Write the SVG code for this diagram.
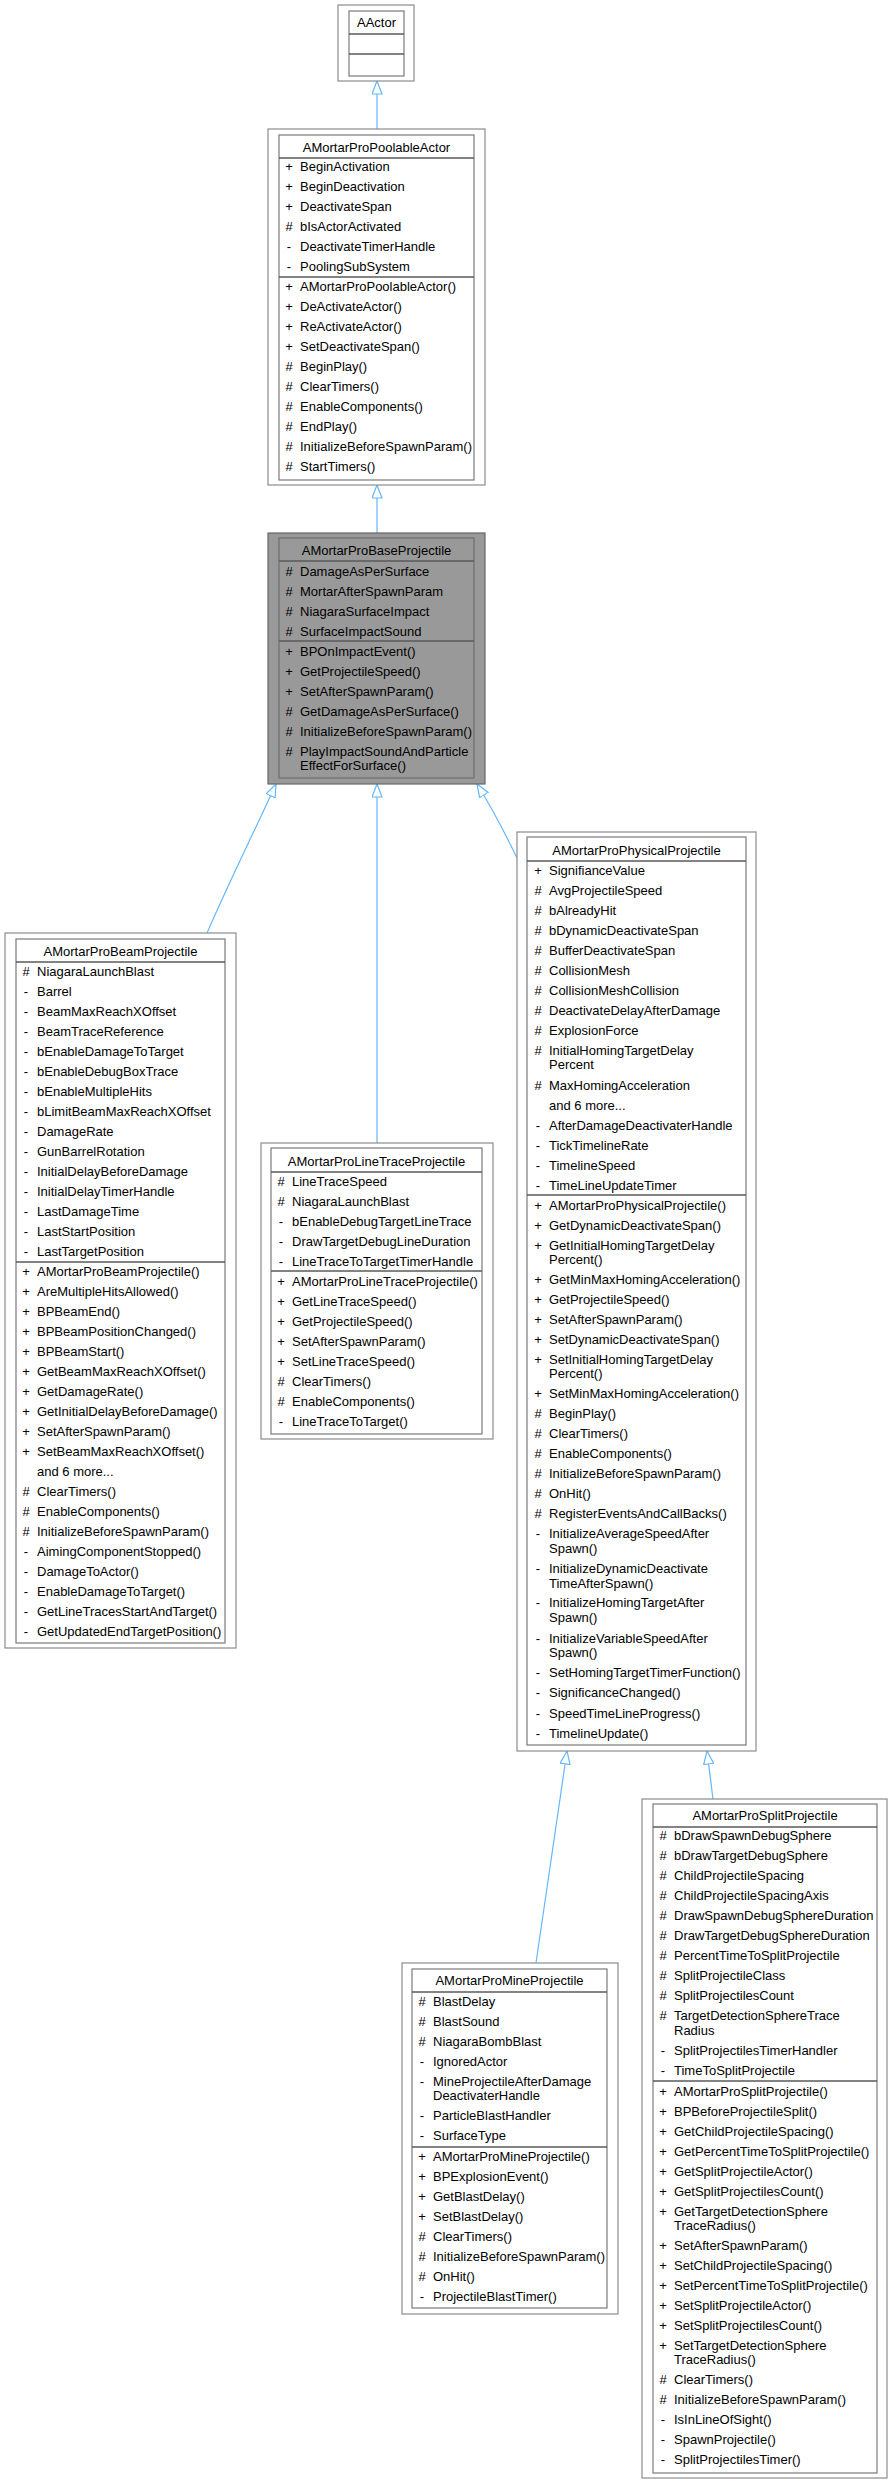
<svg xmlns="http://www.w3.org/2000/svg" width="892" height="2484" viewBox="0 0 892 2484">
<style>
.bg{fill:#ffffff}
.o{fill:#ffffff;stroke:#8c8c8c;stroke-width:1.2}
.i{fill:#ffffff;stroke:#7a7a7a;stroke-width:1.2}
.og{fill:#999999;stroke:#666666;stroke-width:1.2}
.ig{fill:#999999;stroke:#6e6e6e;stroke-width:1.2}
.d{stroke:#5a5a5a;stroke-width:1.3}
text{font-family:"Liberation Sans",Arial,sans-serif;font-size:13px;fill:#000000}
.c{text-anchor:middle}
.e{fill:none;stroke:#63b8ff;stroke-width:1.2}
</style>
<defs>
<marker id="inh" viewBox="0 0 14 11" refX="13.5" refY="5.5" markerWidth="14" markerHeight="11" markerUnits="userSpaceOnUse" orient="auto">
<path d="M0.5,0.5 L13.5,5.5 L0.5,10.5 Z" fill="#ffffff" stroke="#63b8ff" stroke-width="1.2"/>
</marker>
</defs>
<rect class="bg" x="0" y="0" width="892" height="2484"/>

<g id="edges">
<path class="e" d="M377,129 L377,81" marker-end="url(#inh)"/>
<path class="e" d="M377,533 L377,485" marker-end="url(#inh)"/>
<path class="e" d="M207,933 C230,880 255,830 276,784" marker-end="url(#inh)"/>
<path class="e" d="M377,1143 L377,784" marker-end="url(#inh)"/>
<path class="e" d="M517,858 C505,833 490,805 477,784" marker-end="url(#inh)"/>
<path class="e" d="M536,1963 L567,1751" marker-end="url(#inh)"/>
<path class="e" d="M713,1799 L707,1751" marker-end="url(#inh)"/>
</g>

<g id="AActor">
<rect class="o" x="338" y="5" width="76" height="76"/>
<rect class="i" x="349" y="11" width="55" height="65"/>
<line class="d" x1="349" y1="34" x2="404" y2="34"/>
<line class="d" x1="349" y1="54" x2="404" y2="54"/>
<text class="c" x="376.5" y="27">AActor</text>
</g>

<g id="AMortarProPoolableActor">
<rect class="o" x="268" y="129" width="217" height="356"/>
<rect class="i" x="279" y="135" width="195" height="345"/>
<line class="d" x1="279" y1="158" x2="474" y2="158"/>
<line class="d" x1="279" y1="277" x2="474" y2="277"/>
<text class="c" x="376.5" y="152">AMortarProPoolableActor</text>
<g transform="translate(289,0)">
<text class="c" y="171">+</text><text class="c" y="191">+</text><text class="c" y="211">+</text><text class="c" y="231">#</text><text class="c" y="251">-</text><text class="c" y="271">-</text>
<text class="c" y="291">+</text><text class="c" y="311">+</text><text class="c" y="331">+</text><text class="c" y="351">+</text><text class="c" y="371">#</text><text class="c" y="391">#</text><text class="c" y="411">#</text><text class="c" y="431">#</text><text class="c" y="451">#</text><text class="c" y="471">#</text>
</g>
<g transform="translate(300,0)">
<text y="171">BeginActivation</text>
<text y="191">BeginDeactivation</text>
<text y="211">DeactivateSpan</text>
<text y="231">bIsActorActivated</text>
<text y="251">DeactivateTimerHandle</text>
<text y="271">PoolingSubSystem</text>
<text y="291">AMortarProPoolableActor()</text>
<text y="311">DeActivateActor()</text>
<text y="331">ReActivateActor()</text>
<text y="351">SetDeactivateSpan()</text>
<text y="371">BeginPlay()</text>
<text y="391">ClearTimers()</text>
<text y="411">EnableComponents()</text>
<text y="431">EndPlay()</text>
<text y="451">InitializeBeforeSpawnParam()</text>
<text y="471">StartTimers()</text>
</g>
</g>

<g id="AMortarProBaseProjectile">
<rect class="og" x="268" y="533" width="217" height="251"/>
<rect class="ig" x="279" y="538" width="195" height="240"/>
<line class="d" x1="279" y1="561" x2="474" y2="561"/>
<line class="d" x1="279" y1="641" x2="474" y2="641"/>
<text class="c" x="376.5" y="555">AMortarProBaseProjectile</text>
<g transform="translate(289,0)">
<text class="c" y="576">#</text><text class="c" y="596">#</text><text class="c" y="616">#</text><text class="c" y="636">#</text>
<text class="c" y="656">+</text><text class="c" y="676">+</text><text class="c" y="696">+</text><text class="c" y="716">#</text><text class="c" y="736">#</text><text class="c" y="756">#</text>
</g>
<g transform="translate(300,0)">
<text y="576">DamageAsPerSurface</text>
<text y="596">MortarAfterSpawnParam</text>
<text y="616">NiagaraSurfaceImpact</text>
<text y="636">SurfaceImpactSound</text>
<text y="656">BPOnImpactEvent()</text>
<text y="676">GetProjectileSpeed()</text>
<text y="696">SetAfterSpawnParam()</text>
<text y="716">GetDamageAsPerSurface()</text>
<text y="736">InitializeBeforeSpawnParam()</text>
<text y="756">PlayImpactSoundAndParticle</text>
<text y="770">EffectForSurface()</text>
</g>
</g>

<g id="AMortarProBeamProjectile">
<rect class="o" x="5" y="933" width="231" height="715"/>
<rect class="i" x="16" y="939" width="209" height="704"/>
<line class="d" x1="16" y1="962" x2="225" y2="962"/>
<line class="d" x1="16" y1="1262" x2="225" y2="1262"/>
<text class="c" x="120.5" y="956">AMortarProBeamProjectile</text>
<g transform="translate(26,0)">
<text class="c" y="976">#</text><text class="c" y="996">-</text><text class="c" y="1016">-</text><text class="c" y="1036">-</text><text class="c" y="1056">-</text><text class="c" y="1076">-</text><text class="c" y="1096">-</text><text class="c" y="1116">-</text><text class="c" y="1136">-</text><text class="c" y="1156">-</text><text class="c" y="1176">-</text><text class="c" y="1196">-</text><text class="c" y="1216">-</text><text class="c" y="1236">-</text><text class="c" y="1256">-</text>
<text class="c" y="1276">+</text><text class="c" y="1296">+</text><text class="c" y="1316">+</text><text class="c" y="1336">+</text><text class="c" y="1356">+</text><text class="c" y="1376">+</text><text class="c" y="1396">+</text><text class="c" y="1416">+</text><text class="c" y="1436">+</text><text class="c" y="1456">+</text>
<text class="c" y="1496">#</text><text class="c" y="1516">#</text><text class="c" y="1536">#</text><text class="c" y="1556">-</text><text class="c" y="1576">-</text><text class="c" y="1596">-</text><text class="c" y="1616">-</text><text class="c" y="1636">-</text>
</g>
<g transform="translate(37,0)">
<text y="976">NiagaraLaunchBlast</text>
<text y="996">Barrel</text>
<text y="1016">BeamMaxReachXOffset</text>
<text y="1036">BeamTraceReference</text>
<text y="1056">bEnableDamageToTarget</text>
<text y="1076">bEnableDebugBoxTrace</text>
<text y="1096">bEnableMultipleHits</text>
<text y="1116">bLimitBeamMaxReachXOffset</text>
<text y="1136">DamageRate</text>
<text y="1156">GunBarrelRotation</text>
<text y="1176">InitialDelayBeforeDamage</text>
<text y="1196">InitialDelayTimerHandle</text>
<text y="1216">LastDamageTime</text>
<text y="1236">LastStartPosition</text>
<text y="1256">LastTargetPosition</text>
<text y="1276">AMortarProBeamProjectile()</text>
<text y="1296">AreMultipleHitsAllowed()</text>
<text y="1316">BPBeamEnd()</text>
<text y="1336">BPBeamPositionChanged()</text>
<text y="1356">BPBeamStart()</text>
<text y="1376">GetBeamMaxReachXOffset()</text>
<text y="1396">GetDamageRate()</text>
<text y="1416">GetInitialDelayBeforeDamage()</text>
<text y="1436">SetAfterSpawnParam()</text>
<text y="1456">SetBeamMaxReachXOffset()</text>
<text y="1476">and 6 more...</text>
<text y="1496">ClearTimers()</text>
<text y="1516">EnableComponents()</text>
<text y="1536">InitializeBeforeSpawnParam()</text>
<text y="1556">AimingComponentStopped()</text>
<text y="1576">DamageToActor()</text>
<text y="1596">EnableDamageToTarget()</text>
<text y="1616">GetLineTracesStartAndTarget()</text>
<text y="1636">GetUpdatedEndTargetPosition()</text>
</g>
</g>

<g id="AMortarProLineTraceProjectile">
<rect class="o" x="261" y="1143" width="232" height="296"/>
<rect class="i" x="271" y="1148" width="211" height="286"/>
<line class="d" x1="271" y1="1172" x2="482" y2="1172"/>
<line class="d" x1="271" y1="1271" x2="482" y2="1271"/>
<text class="c" x="376.5" y="1166">AMortarProLineTraceProjectile</text>
<g transform="translate(281,0)">
<text class="c" y="1186">#</text><text class="c" y="1206">#</text><text class="c" y="1226">-</text><text class="c" y="1246">-</text><text class="c" y="1266">-</text>
<text class="c" y="1286">+</text><text class="c" y="1306">+</text><text class="c" y="1326">+</text><text class="c" y="1346">+</text><text class="c" y="1366">+</text><text class="c" y="1386">#</text><text class="c" y="1406">#</text><text class="c" y="1426">-</text>
</g>
<g transform="translate(292,0)">
<text y="1186">LineTraceSpeed</text>
<text y="1206">NiagaraLaunchBlast</text>
<text y="1226">bEnableDebugTargetLineTrace</text>
<text y="1246">DrawTargetDebugLineDuration</text>
<text y="1266">LineTraceToTargetTimerHandle</text>
<text y="1286">AMortarProLineTraceProjectile()</text>
<text y="1306">GetLineTraceSpeed()</text>
<text y="1326">GetProjectileSpeed()</text>
<text y="1346">SetAfterSpawnParam()</text>
<text y="1366">SetLineTraceSpeed()</text>
<text y="1386">ClearTimers()</text>
<text y="1406">EnableComponents()</text>
<text y="1426">LineTraceToTarget()</text>
</g>
</g>

<g id="AMortarProPhysicalProjectile">
<rect class="o" x="517" y="832" width="239" height="919"/>
<rect class="i" x="527" y="837" width="219" height="908"/>
<line class="d" x1="527" y1="861" x2="746" y2="861"/>
<line class="d" x1="527" y1="1195" x2="746" y2="1195"/>
<text class="c" x="636.5" y="855">AMortarProPhysicalProjectile</text>
<g transform="translate(538,0)">
<text class="c" y="875">+</text><text class="c" y="895">#</text><text class="c" y="915">#</text><text class="c" y="935">#</text><text class="c" y="955">#</text><text class="c" y="975">#</text><text class="c" y="995">#</text><text class="c" y="1015">#</text><text class="c" y="1035">#</text><text class="c" y="1055">#</text><text class="c" y="1090">#</text>
<text class="c" y="1130">-</text><text class="c" y="1150">-</text><text class="c" y="1170">-</text><text class="c" y="1190">-</text>
<text class="c" y="1210">+</text><text class="c" y="1230">+</text><text class="c" y="1250">+</text><text class="c" y="1284">+</text><text class="c" y="1304">+</text><text class="c" y="1324">+</text><text class="c" y="1344">+</text><text class="c" y="1364">+</text><text class="c" y="1398">+</text>
<text class="c" y="1418">#</text><text class="c" y="1438">#</text><text class="c" y="1458">#</text><text class="c" y="1478">#</text><text class="c" y="1498">#</text><text class="c" y="1518">#</text>
<text class="c" y="1538">-</text><text class="c" y="1573">-</text><text class="c" y="1607">-</text><text class="c" y="1643">-</text><text class="c" y="1677">-</text><text class="c" y="1697">-</text><text class="c" y="1718">-</text><text class="c" y="1738">-</text>
</g>
<g transform="translate(549,0)">
<text y="875">SignifianceValue</text>
<text y="895">AvgProjectileSpeed</text>
<text y="915">bAlreadyHit</text>
<text y="935">bDynamicDeactivateSpan</text>
<text y="955">BufferDeactivateSpan</text>
<text y="975">CollisionMesh</text>
<text y="995">CollisionMeshCollision</text>
<text y="1015">DeactivateDelayAfterDamage</text>
<text y="1035">ExplosionForce</text>
<text y="1055">InitialHomingTargetDelay</text>
<text y="1069">Percent</text>
<text y="1090">MaxHomingAcceleration</text>
<text y="1110">and 6 more...</text>
<text y="1130">AfterDamageDeactivaterHandle</text>
<text y="1150">TickTimelineRate</text>
<text y="1170">TimelineSpeed</text>
<text y="1190">TimeLineUpdateTimer</text>
<text y="1210">AMortarProPhysicalProjectile()</text>
<text y="1230">GetDynamicDeactivateSpan()</text>
<text y="1250">GetInitialHomingTargetDelay</text>
<text y="1264">Percent()</text>
<text y="1284">GetMinMaxHomingAcceleration()</text>
<text y="1304">GetProjectileSpeed()</text>
<text y="1324">SetAfterSpawnParam()</text>
<text y="1344">SetDynamicDeactivateSpan()</text>
<text y="1364">SetInitialHomingTargetDelay</text>
<text y="1378">Percent()</text>
<text y="1398">SetMinMaxHomingAcceleration()</text>
<text y="1418">BeginPlay()</text>
<text y="1438">ClearTimers()</text>
<text y="1458">EnableComponents()</text>
<text y="1478">InitializeBeforeSpawnParam()</text>
<text y="1498">OnHit()</text>
<text y="1518">RegisterEventsAndCallBacks()</text>
<text y="1538">InitializeAverageSpeedAfter</text>
<text y="1553">Spawn()</text>
<text y="1573">InitializeDynamicDeactivate</text>
<text y="1588">TimeAfterSpawn()</text>
<text y="1607">InitializeHomingTargetAfter</text>
<text y="1622">Spawn()</text>
<text y="1643">InitializeVariableSpeedAfter</text>
<text y="1657">Spawn()</text>
<text y="1677">SetHomingTargetTimerFunction()</text>
<text y="1697">SignificanceChanged()</text>
<text y="1718">SpeedTimeLineProgress()</text>
<text y="1738">TimelineUpdate()</text>
</g>
</g>

<g id="AMortarProMineProjectile">
<rect class="o" x="402" y="1963" width="216" height="351"/>
<rect class="i" x="412" y="1969" width="195" height="339"/>
<line class="d" x1="412" y1="1992" x2="607" y2="1992"/>
<line class="d" x1="412" y1="2147" x2="607" y2="2147"/>
<text class="c" x="509.5" y="1985">AMortarProMineProjectile</text>
<g transform="translate(422,0)">
<text class="c" y="2006">#</text><text class="c" y="2026">#</text><text class="c" y="2046">#</text><text class="c" y="2066">-</text><text class="c" y="2086">-</text><text class="c" y="2120">-</text><text class="c" y="2140">-</text>
<text class="c" y="2161">+</text><text class="c" y="2181">+</text><text class="c" y="2201">+</text><text class="c" y="2221">+</text><text class="c" y="2241">#</text><text class="c" y="2261">#</text><text class="c" y="2281">#</text><text class="c" y="2301">-</text>
</g>
<g transform="translate(433,0)">
<text y="2006">BlastDelay</text>
<text y="2026">BlastSound</text>
<text y="2046">NiagaraBombBlast</text>
<text y="2066">IgnoredActor</text>
<text y="2086">MineProjectileAfterDamage</text>
<text y="2100">DeactivaterHandle</text>
<text y="2120">ParticleBlastHandler</text>
<text y="2140">SurfaceType</text>
<text y="2161">AMortarProMineProjectile()</text>
<text y="2181">BPExplosionEvent()</text>
<text y="2201">GetBlastDelay()</text>
<text y="2221">SetBlastDelay()</text>
<text y="2241">ClearTimers()</text>
<text y="2261">InitializeBeforeSpawnParam()</text>
<text y="2281">OnHit()</text>
<text y="2301">ProjectileBlastTimer()</text>
</g>
</g>

<g id="AMortarProSplitProjectile">
<rect class="o" x="642" y="1799" width="245" height="679"/>
<rect class="i" x="653" y="1804" width="224" height="669"/>
<line class="d" x1="653" y1="1827" x2="877" y2="1827"/>
<line class="d" x1="653" y1="2081" x2="877" y2="2081"/>
<text class="c" x="765" y="1820">AMortarProSplitProjectile</text>
<g transform="translate(663,0)">
<text class="c" y="1840">#</text><text class="c" y="1860">#</text><text class="c" y="1880">#</text><text class="c" y="1900">#</text><text class="c" y="1920">#</text><text class="c" y="1940">#</text><text class="c" y="1960">#</text><text class="c" y="1980">#</text><text class="c" y="2000">#</text><text class="c" y="2020">#</text><text class="c" y="2055">-</text><text class="c" y="2075">-</text>
<text class="c" y="2096">+</text><text class="c" y="2116">+</text><text class="c" y="2136">+</text><text class="c" y="2156">+</text><text class="c" y="2176">+</text><text class="c" y="2196">+</text><text class="c" y="2216">+</text><text class="c" y="2250">+</text><text class="c" y="2270">+</text><text class="c" y="2290">+</text><text class="c" y="2310">+</text><text class="c" y="2330">+</text><text class="c" y="2350">+</text>
<text class="c" y="2384">#</text><text class="c" y="2404">#</text><text class="c" y="2424">-</text><text class="c" y="2444">-</text><text class="c" y="2464">-</text>
</g>
<g transform="translate(674,0)">
<text y="1840">bDrawSpawnDebugSphere</text>
<text y="1860">bDrawTargetDebugSphere</text>
<text y="1880">ChildProjectileSpacing</text>
<text y="1900">ChildProjectileSpacingAxis</text>
<text y="1920">DrawSpawnDebugSphereDuration</text>
<text y="1940">DrawTargetDebugSphereDuration</text>
<text y="1960">PercentTimeToSplitProjectile</text>
<text y="1980">SplitProjectileClass</text>
<text y="2000">SplitProjectilesCount</text>
<text y="2020">TargetDetectionSphereTrace</text>
<text y="2035">Radius</text>
<text y="2055">SplitProjectilesTimerHandler</text>
<text y="2075">TimeToSplitProjectile</text>
<text y="2096">AMortarProSplitProjectile()</text>
<text y="2116">BPBeforeProjectileSplit()</text>
<text y="2136">GetChildProjectileSpacing()</text>
<text y="2156">GetPercentTimeToSplitProjectile()</text>
<text y="2176">GetSplitProjectileActor()</text>
<text y="2196">GetSplitProjectilesCount()</text>
<text y="2216">GetTargetDetectionSphere</text>
<text y="2230">TraceRadius()</text>
<text y="2250">SetAfterSpawnParam()</text>
<text y="2270">SetChildProjectileSpacing()</text>
<text y="2290">SetPercentTimeToSplitProjectile()</text>
<text y="2310">SetSplitProjectileActor()</text>
<text y="2330">SetSplitProjectilesCount()</text>
<text y="2350">SetTargetDetectionSphere</text>
<text y="2364">TraceRadius()</text>
<text y="2384">ClearTimers()</text>
<text y="2404">InitializeBeforeSpawnParam()</text>
<text y="2424">IsInLineOfSight()</text>
<text y="2444">SpawnProjectile()</text>
<text y="2464">SplitProjectilesTimer()</text>
</g>
</g>
</svg>
